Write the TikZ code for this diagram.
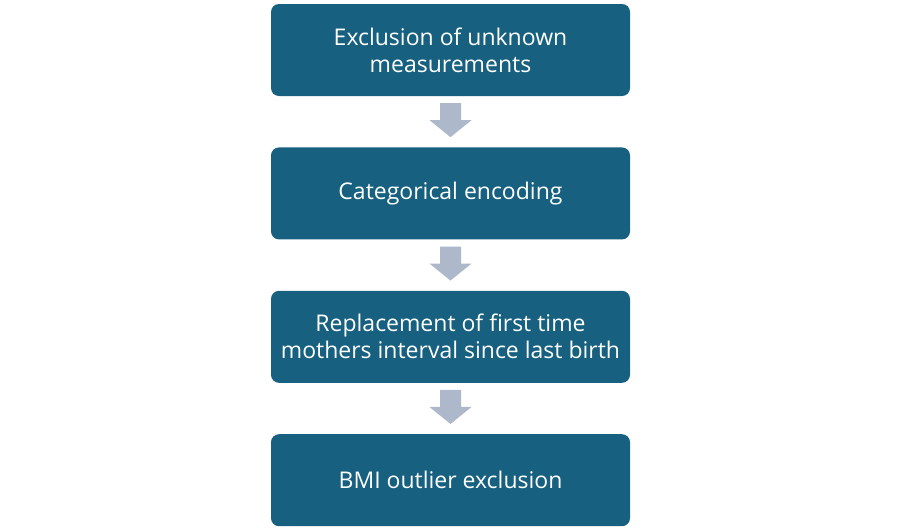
\documentclass[tikz,border=0pt]{standalone}
\usepackage{fontspec}
\setmainfont{Open Sans}
\usetikzlibrary{positioning,calc}
\definecolor{boxblue}{HTML}{17607F}
\definecolor{arrgray}{HTML}{ADB9CA}

\begin{document}
\begin{tikzpicture}[x=1pt,y=1pt,
  stepbox/.style={fill=boxblue,rounded corners=8pt,minimum width=359pt,minimum height=92pt,
    inner sep=0pt,text=white,align=center,font=\fontsize{23}{27}\selectfont},
  blockarrow/.style={fill=arrgray}]
\useasboundingbox (0,0) rectangle (900,-528);
\node[stepbox] (excl) at (450.5,-50) {Exclusion of unknown\\measurements};
\node[stepbox,below=51pt of excl] (enc) {Categorical encoding};
\node[stepbox,below=51pt of enc] (repl) {Replacement of first time\\mothers interval since last birth};
\node[stepbox,below=51pt of repl] (bmi) {BMI outlier exclusion};
% block arrows between the steps
\foreach \from/\to in {excl/enc,enc/repl,repl/bmi}{
  \path (\from.south) -- (\to.north) coordinate[pos=0.47] (mid);
  \fill[blockarrow] ($(mid)+(-10.5,17)$) -- ++(21,0) -- ++(0,-17) -- ++(10.5,0)
    -- ++(-21,-17) -- ++(-21,17) -- ++(10.5,0) -- cycle;
}
\end{tikzpicture}
\end{document}
